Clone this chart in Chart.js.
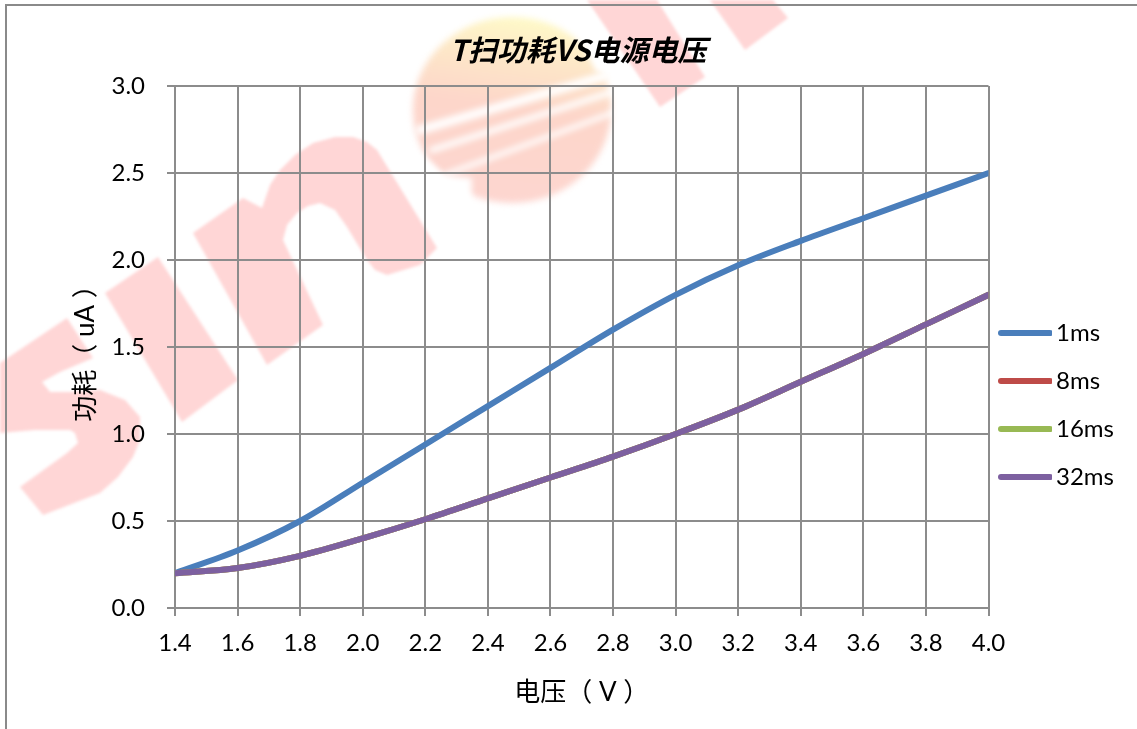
<!DOCTYPE html>
<html>
<head>
<meta charset="utf-8">
<title>T扫功耗VS电源电压</title>
<script src="https://cdn.jsdelivr.net/npm/chart.js@4/dist/chart.umd.min.js"></script>
<style>
  body { margin: 0; background: #fff; }
  canvas { display: block; }
</style>
</head>
<body>
<canvas id="chart" width="1137" height="729"></canvas>
<script>
const voltages = [1.4, 1.6, 1.8, 2.0, 2.2, 2.4, 2.6, 2.8, 3.0, 3.2, 3.4, 3.6, 3.8, 4.0];
const power1ms = [0.2, 0.33, 0.5, 0.72, 0.94, 1.16, 1.38, 1.6, 1.8, 1.97, 2.11, 2.24, 2.37, 2.5];
const power8ms = [0.2, 0.23, 0.3, 0.4, 0.51, 0.63, 0.75, 0.87, 1.0, 1.14, 1.3, 1.46, 1.63, 1.8];
const power16ms = [0.2, 0.23, 0.3, 0.4, 0.51, 0.63, 0.75, 0.87, 1.0, 1.14, 1.3, 1.46, 1.63, 1.8];
const power32ms = [0.2, 0.23, 0.3, 0.4, 0.51, 0.63, 0.75, 0.87, 1.0, 1.14, 1.3, 1.46, 1.63, 1.8];

const gridColor = '#8c8c8c';
const latin = 'Lato, "Noto Sans CJK SC"';

// legend sample: canvas wider than the legend box so the line can sit close to the text
function legendLine(color) {
  const c = document.createElement('canvas');
  c.width = 63;
  c.height = 8;
  const g = c.getContext('2d');
  g.strokeStyle = color;
  g.lineWidth = 6;
  g.lineCap = 'round';
  g.beginPath();
  g.moveTo(12, 4);
  g.lineTo(61, 4);
  g.stroke();
  return c;
}

// later series paint over earlier ones, as in the original
function series(label, data, color, order) {
  return {
    label,
    order,
    data: data.map((y, i) => ({ x: voltages[i], y })),
    borderColor: color,
    backgroundColor: color,
    borderWidth: 6,
    pointRadius: 0,
    pointStyle: legendLine(color),
    cubicInterpolationMode: 'monotone',
    borderCapStyle: 'round',
  };
}

function shape(ctx, pts) {
  ctx.beginPath();
  pts.forEach(([x, y], i) => (i ? ctx.lineTo(x, y) : ctx.moveTo(x, y)));
  ctx.closePath();
  ctx.fill();
}

// logo outlines
const logoS = [[0, 363], [67, 318], [93, 358], [60, 372], [42, 382], [50, 392], [72, 392], [100, 390], [125, 400], [140, 417], [140, 440], [133, 457], [118, 477], [100, 493], [43, 515], [20, 487], [67, 453], [78, 443], [75, 433], [70, 430], [35, 430], [0, 433]];
const logoI = [[105, 293], [158, 257], [238, 380], [182, 422]];
const logoN = [[193, 233], [243, 198], [262, 208], [270, 185], [280, 170], [295, 155], [313, 143], [335, 137], [353, 137], [367, 142], [377, 150], [437, 248], [420, 265], [387, 275], [375, 270], [367, 260], [347, 227], [335, 210], [320, 203], [308, 206], [297, 213], [287, 225], [283, 240], [323, 325], [267, 365]];
const logoStem1 = [[587, 0], [657, 0], [705, 77], [660, 107]];
const logoStem2 = [[710, 0], [773, 0], [788, 18], [745, 50]];

// grey frame and the faded logo behind the plot
const backdrop = {
  id: 'backdrop',
  beforeDraw(chart) {
    const ctx = chart.ctx;
    ctx.save();
    ctx.fillStyle = '#fff';
    ctx.fillRect(0, 0, 1137, 729);

    // sun
    ctx.filter = 'blur(3px)';
    const sun = ctx.createLinearGradient(525, 15, 500, 200);
    sun.addColorStop(0, '#fffbc8');
    sun.addColorStop(0.25, '#fde6c8');
    sun.addColorStop(0.5, '#fdd6ca');
    sun.addColorStop(1, '#fdd6d0');
    ctx.fillStyle = sun;
    ctx.beginPath();
    ctx.ellipse(512, 110, 99, 93, 0, 0, Math.PI * 2);
    ctx.fill();
    ctx.fillStyle = '#fff';
    shape(ctx, [[395, 135], [445, 175], [472, 178], [470, 235], [395, 235]]);
    shape(ctx, [[568, 10], [625, 10], [625, 72], [596, 72]]);
    ctx.strokeStyle = '#fff';
    ctx.lineCap = 'round';
    [[9, 420, 130, 605, 76], [6, 432, 150, 612, 92], [5, 447, 174, 615, 112]].forEach(([w, a, b, c, d]) => {
      ctx.lineWidth = w;
      ctx.beginPath();
      ctx.moveTo(a, b);
      ctx.lineTo(c, d);
      ctx.stroke();
    });

    ctx.filter = 'blur(1.5px)';
    ctx.fillStyle = '#ffd6d6';
    [logoS, logoI, logoN, logoStem1, logoStem2].forEach((pts) => shape(ctx, pts));
    ctx.filter = 'none';

    ctx.strokeStyle = '#8a8a8a';
    ctx.lineWidth = 2;
    ctx.beginPath();
    ctx.moveTo(6, 729);
    ctx.lineTo(6, 5);
    ctx.lineTo(1137, 5);
    ctx.stroke();
    ctx.restore();
  },
};

// legend is placed by hand next to the plot, the title over the plot centre
const placeBlocks = {
  id: 'placeBlocks',
  afterLayout(chart) {
    const legend = chart.legend;
    legend.left = 973;
    legend.top = 297;
    legend.bottom = 729;
    legend.right = 1137;
    chart.titleBlock.left = 19;
    chart.titleBlock.right = 1137;
  },
};

new Chart(document.getElementById('chart'), {
  type: 'line',
  data: {
    datasets: [
      series('1ms', power1ms, '#4a7ebb', 4),
      series('8ms', power8ms, '#be4b48', 3),
      series('16ms', power16ms, '#98b954', 2),
      series('32ms', power32ms, '#7d60a0', 1),
    ],
  },
  options: {
    responsive: false,
    animation: false,
    layout: { padding: { right: 148.5 } },
    plugins: {
      title: {
        display: true,
        text: 'T扫功耗VS电源电压',
        color: '#000',
        font: { family: '"Noto Sans CJK SC"', size: 29, weight: 'bold', style: 'italic', lineHeight: 1.2 },
        padding: { top: 33, bottom: 18.2 },
      },
      legend: {
        position: 'chartArea',
        align: 'start',
        labels: {
          color: '#000',
          font: { family: latin, size: 24 },
          usePointStyle: true,
          pointStyleWidth: 47,
          boxHeight: 8,
          padding: 24,
          sort: (a, b) => a.datasetIndex - b.datasetIndex,
        },
      },
      tooltip: { enabled: false },
    },
    scales: {
      x: {
        type: 'linear',
        min: 1.4,
        max: 4.0,
        afterFit: (s) => { s.height = 121; },
        afterBuildTicks: (s) => { s.ticks = voltages.map((value) => ({ value })); },
        grid: { color: gridColor, lineWidth: 2, tickLength: 8 },
        border: { color: gridColor, width: 2 },
        ticks: {
          color: '#000',
          font: { family: latin, size: 24 },
          padding: 13,
          maxRotation: 0,
          autoSkip: false,
          callback: (v) => v.toFixed(1),
        },
        title: {
          display: true,
          text: '电压（ V ）',
          color: '#000',
          font: { family: latin, size: 26, lineHeight: 1.2 },
          padding: { top: 0, bottom: 20.4 },
        },
      },
      y: {
        min: 0,
        max: 3,
        afterFit: (s) => { s.width = 175; },
        grid: { color: gridColor, lineWidth: 2, tickLength: 8 },
        border: { color: gridColor, width: 2 },
        ticks: {
          stepSize: 0.5,
          color: '#000',
          font: { family: latin, size: 24 },
          padding: 22,
          callback: (v) => v.toFixed(1),
        },
        title: {
          display: true,
          text: '功耗（ uA ）',
          color: '#000',
          font: { family: latin, size: 26, lineHeight: 1.2 },
          padding: { top: 70, bottom: 0 },
        },
      },
    },
  },
  plugins: [backdrop, placeBlocks],
});
</script>
</body>
</html>
